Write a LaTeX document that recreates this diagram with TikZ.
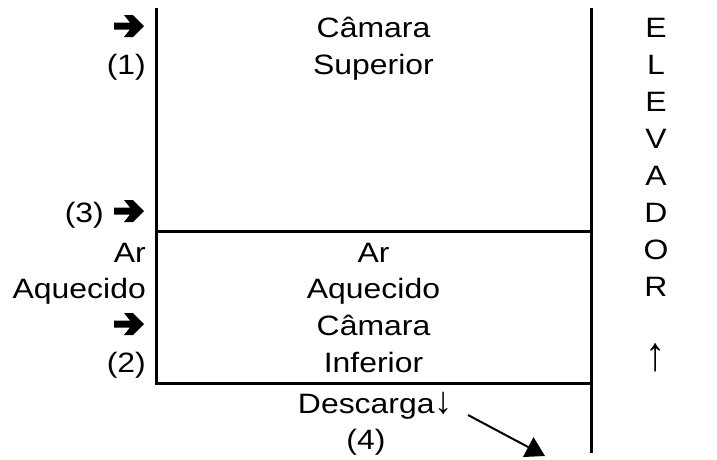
\documentclass[tikz,border=0pt]{standalone}
\usepackage{fontspec}
\setmainfont{Liberation Sans}[FakeStretch=1.14]
\newfontfamily\arrowfont{Liberation Sans}
\usetikzlibrary{arrows.meta}
\begin{document}
\begin{tikzpicture}[x=1pt,y=-1pt,
  wall/.style={line width=3pt},
  txt/.style={inner sep=0pt, font=\fontsize{28}{33}\selectfont},
  lft/.style={txt, anchor=base east},
  mid/.style={txt, anchor=base},
  heavyarrow/.pic={\fill[black] (0,-3.5) -- (16,-3.5) -- (10,-11) -- (19,-11) -- (30,0) -- (19,11) -- (10,11) -- (16,3.5) -- (0,3.5) -- cycle;}]
\useasboundingbox (0,0) rectangle (717,459);
% walls
\coordinate (tl) at (156,8);
\coordinate (tr) at (591,8);
\coordinate (ml) at (156,231);
\coordinate (mr) at (591,231);
\coordinate (bl) at (156,383);
\coordinate (br) at (591,383);
\coordinate (rb) at (591,453);
\draw[wall] (tl) -- ([yshift=-1.5pt]bl);
\draw[wall] (tr) -- (rb);
\draw[wall] (ml) -- (mr);
\draw[wall] ([xshift=-1.5pt]bl) -- (br);
% left column
\pic at (114,26) {heavyarrow};
\node[lft] (p1) at (146,74) {(1)};
\node[lft] (p3) at (104,222) {(3)};
\pic at (114,211) {heavyarrow};
\node[lft] (arL) at (146,262) {Ar};
\node[lft] (aqL) at (146,298) {Aquecido};
\pic at (114,324) {heavyarrow};
\node[lft] (p2) at (146,372) {(2)};
% centre column
\node[mid] (cs1) at (373.5,37) {Câmara};
\node[mid] (cs2) at (373.5,74) {Superior};
\node[mid] (arC) at (373.5,262) {Ar};
\node[mid] (aqC) at (373.5,298) {Aquecido};
\node[mid] (ci1) at (373.5,335) {Câmara};
\node[mid] (ci2) at (373.5,372) {Inferior};
% bottom
\node[txt, anchor=base east] (desc) at (453,413) {Descarga{\arrowfont\fontsize{28}{33}\selectfont\scalebox{1.3}[1.35]{↓}}};
\node[mid] (p4) at (366,449) {(4)};
\coordinate (tip) at (545,456);
\draw[line width=2pt, -{Triangle[length=19pt,width=22pt]}] ([xshift=15pt,yshift=-2pt]desc.base east) -- (tip);
% elevator
\foreach \l/\n [count=\i from 0] in {E/e1,L/e2,E/e3,V/e4,A/e5,D/e6,O/e7,R/e8}{
  \node[mid] (\n) at (656,37+37*\i) {\l};
}
\node[txt, anchor=base] (up) at (656,370) {\arrowfont\fontsize{30}{36}\selectfont\scalebox{1.35}[1.6]{↑}};
\end{tikzpicture}
\end{document}
